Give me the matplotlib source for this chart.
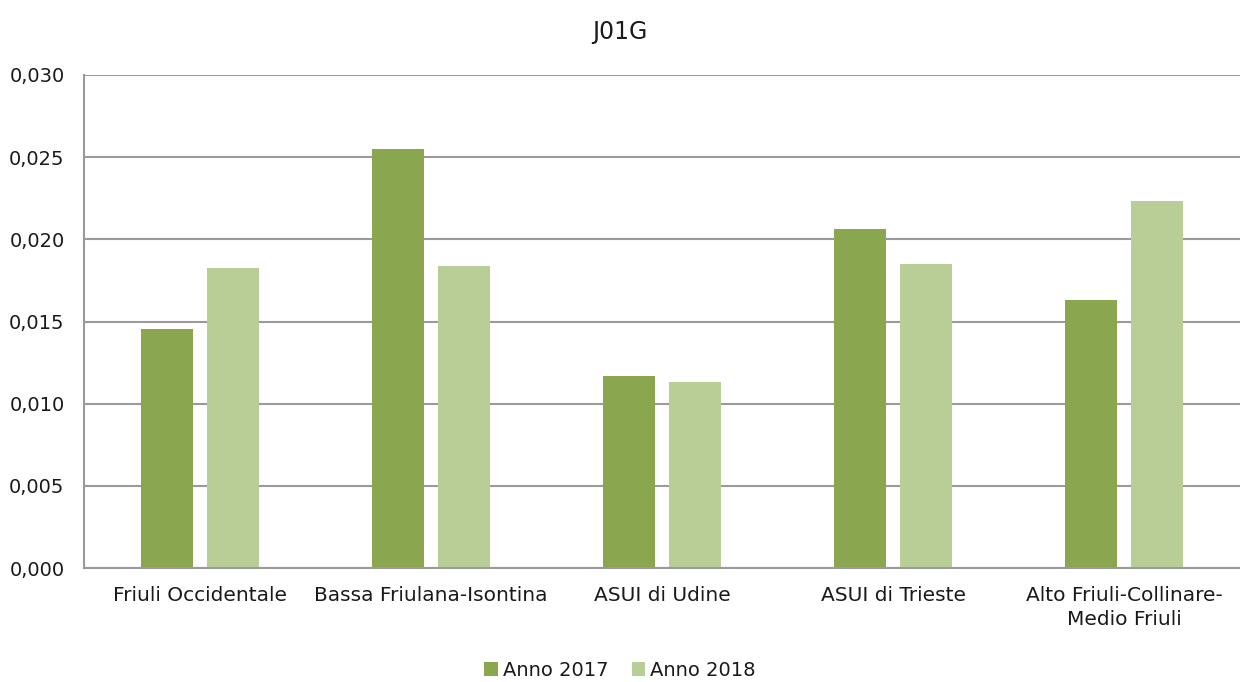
import numpy as np
import matplotlib
matplotlib.use('Agg')
import matplotlib.pyplot as plt
from matplotlib.ticker import FuncFormatter

plt.rcParams['font.family'] = ['DejaVu Sans']

aziende = ['Friuli Occidentale', 'Bassa Friulana-Isontina', 'ASUI di Udine',
           'ASUI di Trieste', 'Alto Friuli-Collinare-\nMedio Friuli']
anno_2017 = [0.01454, 0.02550, 0.01168, 0.02063, 0.01631]
anno_2018 = [0.01826, 0.01838, 0.01132, 0.01850, 0.02233]

col_2017 = '#8aa64e'
col_2018 = '#b9ce96'
grid_col = '#9a9a9a'
txt_col = '#1a1a1a'

fig = plt.figure(figsize=(12.4, 6.82), dpi=100)
ax = fig.add_axes([84 / 1240, 1 - 568 / 682, 1156 / 1240, 493 / 682])

x = np.arange(len(aziende))
w = 0.225
ax.bar(x - 0.143, anno_2017, w, color=col_2017, label='Anno 2017', zorder=3)
ax.bar(x + 0.143, anno_2018, w, color=col_2018, label='Anno 2018', zorder=3)

ax.set_xlim(-0.5, len(aziende) - 0.5)
ax.set_ylim(0, 0.030)
ax.set_yticks(np.arange(0, 0.0301, 0.005))
ax.yaxis.set_major_formatter(FuncFormatter(lambda v, p: f'{v:.3f}'.replace('.', ',')))
ax.yaxis.grid(True, color=grid_col, linewidth=1.5, zorder=0)

for s in ['top', 'right']:
    ax.spines[s].set_visible(False)
ax.spines['left'].set_color(grid_col)
ax.spines['left'].set_linewidth(1.5)
ax.spines['bottom'].set_color(grid_col)
ax.spines['bottom'].set_linewidth(1.5)
ax.spines['bottom'].set_zorder(4)

ax.set_xticks(x)
ax.set_xticklabels(aziende, fontsize=14.5, color=txt_col, linespacing=1.3)
ax.tick_params(axis='x', length=0, pad=13)
ax.tick_params(axis='y', length=0, pad=14, labelsize=14, labelcolor=txt_col)

fig.text(0.5, 1 - 32 / 682, 'J01G', ha='center', va='center', fontsize=17, color=txt_col)

fig.legend(loc='center', bbox_to_anchor=(0.5, 1 - 670 / 682), ncol=2, frameon=False,
           fontsize=14, handlelength=0.7, handleheight=0.7, handletextpad=0.25,
           columnspacing=1.2, labelcolor=txt_col)

fig.savefig('out.png', dpi=100)
